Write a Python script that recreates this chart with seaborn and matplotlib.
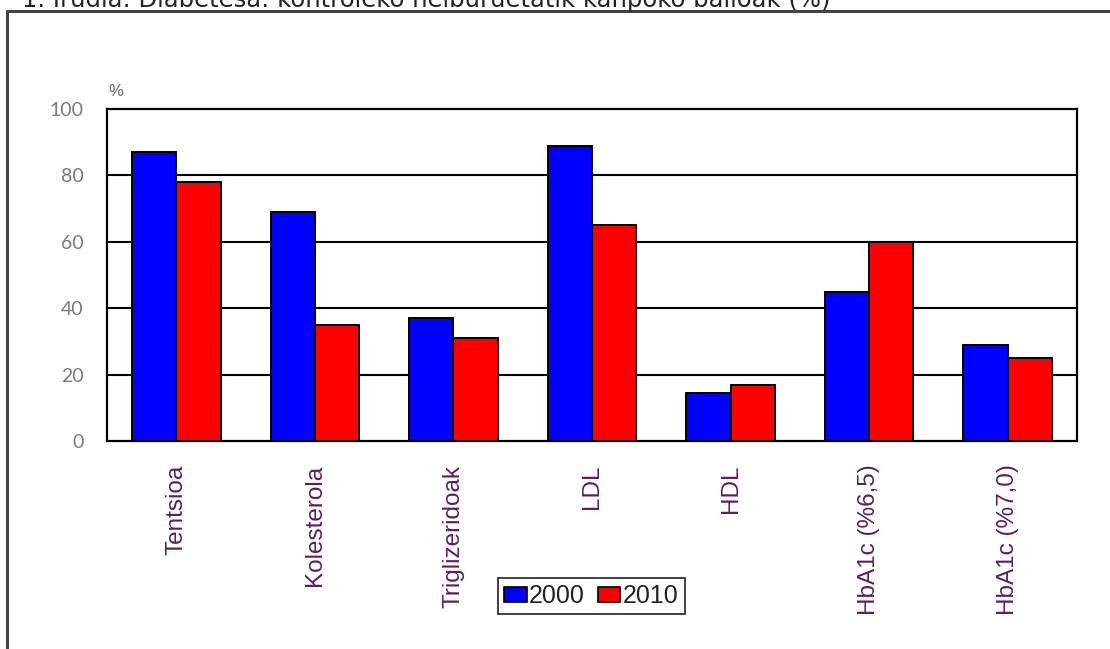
import matplotlib
matplotlib.use("Agg")
import matplotlib.pyplot as plt
from matplotlib.lines import Line2D
from matplotlib.patches import Patch
import seaborn as sns
import pandas as pd

# Share of patients outside control targets (%)
categories = ["Tentsioa", "Kolesterola", "Triglizeridoak", "LDL", "HDL",
              "HbA1c (%6,5)", "HbA1c (%7,0)"]
years = ["2000", "2010"]
values_2000 = [87, 69, 37, 89, 14.5, 45, 29]
values_2010 = [78, 35, 31, 65, 17, 60, 25]
y_ticks = [0, 20, 40, 60, 80, 100]
title = "1. Irudia: Diabetesa: kontroleko helburuetatik kanpoko balioak (%)"

df = pd.DataFrame({
    "kategoria": categories * 2,
    "urtea": [years[0]] * len(categories) + [years[1]] * len(categories),
    "balioa": values_2000 + values_2010,
})

W, H = 1110, 649
sns.set_theme(style="white")
plt.rcParams["font.family"] = ["Liberation Sans", "DejaVu Sans"]

fig = plt.figure(figsize=(W / 100, H / 100), dpi=100)
fig.patch.set_facecolor("white")

# outer frame (top and left edges only)
fig.add_artist(Line2D([7 / W, 1.0], [1 - 11 / H, 1 - 11 / H], color="#444444",
                      lw=2.2, transform=fig.transFigure))
fig.add_artist(Line2D([7 / W, 7 / W], [0, 1 - 11 / H], color="#444444",
                      lw=2.2, transform=fig.transFigure))

fig.text(22 / W, 1 - 7 / H, title, ha="left", va="baseline", fontsize=17.5,
         color="#222222", family=["DejaVu Sans"])

left, right, top, bottom = 107, 1077, 109, 441
ax = fig.add_axes([left / W, 1 - bottom / H, (right - left) / W, (bottom - top) / H])

palette = {"2000": "#0000ff", "2010": "#ff0000"}
sns.barplot(data=df, x="kategoria", y="balioa", hue="urtea", palette=palette,
            width=0.64, edgecolor="black", linewidth=1.4, saturation=1,
            legend=False, ax=ax, zorder=3)

ax.set_ylim(0, 100)
ax.set_xlim(-0.5, len(categories) - 0.5)
ax.set_yticks(y_ticks)
ax.set_yticklabels([str(t) for t in y_ticks], color="#7a7a7a", fontsize=14,
                   family=["Lato", "DejaVu Sans"])
ax.tick_params(axis="y", length=0, pad=17)
ax.tick_params(axis="x", length=0, pad=17)
ax.set_xticks(range(len(categories)))
ax.set_xticklabels(categories, rotation=90, va="top", ha="center",
                   fontsize=17.5, color="#5c1f5c")
ax.set_xlabel("")
ax.set_ylabel("")

for t in y_ticks[1:-1]:
    ax.axhline(t, color="black", lw=1.5, zorder=1)
for sp in ax.spines.values():
    sp.set_visible(True)
    sp.set_color("black")
    sp.set_linewidth(1.6)

fig.text(108 / W, 1 - 92 / H, "%", ha="left", va="center", fontsize=12,
         color="#666666")

handles = [Patch(facecolor=palette[y], edgecolor="black", lw=1.2) for y in years]
leg = fig.legend(handles, years, loc="center left",
                 bbox_to_anchor=(498 / W, 1 - 596 / H), ncol=2, frameon=True,
                 fancybox=False, fontsize=18, handlelength=0.9, handleheight=0.55,
                 handletextpad=0.1, columnspacing=0.5, borderpad=0.25,
                 borderaxespad=0)
leg.get_frame().set_edgecolor("black")
leg.get_frame().set_linewidth(1.3)
for txt in leg.get_texts():
    txt.set_color("#222222")

fig.savefig("out.png", dpi=100, facecolor="white")
